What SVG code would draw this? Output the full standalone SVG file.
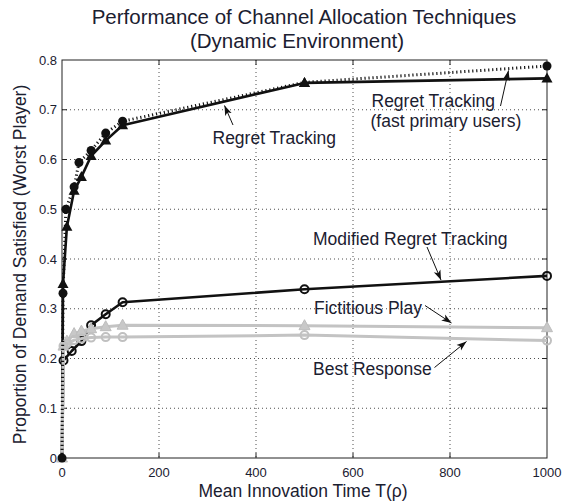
<svg xmlns="http://www.w3.org/2000/svg" xmlns:xlink="http://www.w3.org/1999/xlink" width="562" height="502" viewBox="0 0 562 502">
<style>
text{font-family:"Liberation Sans",Arial,sans-serif;fill:#1b2030}
.title{font-size:20.5px;text-anchor:middle}
.axl{font-size:17.5px;text-anchor:middle}
.tk{font-size:13px}
.ytk{text-anchor:end}
.xtk{text-anchor:middle}
.lab{font-size:17.5px}
.grid{stroke:#3a3a3a;stroke-width:0.9;stroke-dasharray:1 3;fill:none}
.box{stroke:#222;stroke-width:1;fill:none}
.blk{stroke:#111;stroke-width:2.6;fill:none;stroke-linejoin:round}
.dot{stroke:#111;stroke-width:3;fill:none;stroke-dasharray:1.2 2.8}
.gry{stroke:#c3c3c3;stroke-width:3;fill:none;stroke-linejoin:round}
.mtri{fill:#111}
.mfc{fill:#111}
.moc{fill:none;stroke:#111;stroke-width:2}
.gtri{fill:#c8c8c8;stroke:#bdbdbd;stroke-width:1}
.goc{fill:none;stroke:#c0c0c0;stroke-width:2}
.arr{stroke:#111;stroke-width:1;fill:none;marker-end:url(#ah)}
</style>
<defs>
<path id="tri" d="M0,-6 L5.5,4 L-5.5,4 Z"/>
<circle id="cir" r="4.5"/>
<circle id="ocir" r="4"/>
<marker id="ah" markerWidth="12" markerHeight="10" refX="10" refY="5" orient="auto" markerUnits="userSpaceOnUse" viewBox="0 0 12 10">
<path d="M10,5 L0,1.4 L2.6,5 L0,8.6 Z" fill="#111"/>
</marker>
</defs>
<rect width="562" height="502" fill="#fff"/>
<g id="title">
<text class="title" x="304" y="24">Performance of Channel Allocation Techniques</text>
<text class="title" x="297" y="48">(Dynamic Environment)</text>
</g>
<g id="grid">
<path class="grid" d="M159,60V458M256,60V458M353,60V458M450,60V458"/>
<path class="grid" d="M62,408.25H547M62,358.5H547M62,308.75H547M62,259H547M62,209.25H547M62,159.5H547M62,109.75H547"/>
</g>
<g id="axes">
<rect class="box" x="62" y="60" width="485" height="398"/>
<path stroke="#222" stroke-width="1" d="M159,458v-5M256,458v-5M353,458v-5M450,458v-5M159,60v5M256,60v5M353,60v5M450,60v5M62,408.25h5M62,358.5h5M62,308.75h5M62,259h5M62,209.25h5M62,159.5h5M62,109.75h5M547,408.25h-5M547,358.5h-5M547,308.75h-5M547,259h-5M547,209.25h-5M547,159.5h-5M547,109.75h-5"/>
<g class="tk ytk">
<text x="57" y="462.5">0</text>
<text x="57" y="412.7">0.1</text>
<text x="57" y="363">0.2</text>
<text x="57" y="313.2">0.3</text>
<text x="57" y="263.5">0.4</text>
<text x="57" y="213.7">0.5</text>
<text x="57" y="164">0.6</text>
<text x="57" y="114.2">0.7</text>
<text x="57" y="64.5">0.8</text>
</g>
<g class="tk xtk">
<text x="62" y="477">0</text>
<text x="159" y="477">200</text>
<text x="256" y="477">400</text>
<text x="353" y="477">600</text>
<text x="450" y="477">800</text>
<text x="547" y="477">1000</text>
</g>
<text class="axl" x="303" y="497">Mean Innovation Time T(ρ)</text>
<text class="axl" transform="translate(26,264.5) rotate(-90)">Proportion of Demand Satisfied (Worst Player)</text>
</g>
<g id="regret-tracking">
<polyline class="blk" points="62,458 63,283.9 66.9,226.7 74.1,190.8 81.4,176.9 91.1,156 105.7,140.6 122.6,125.2 304.5,82.9 547,78.4"/>
<g class="mtri">
<use href="#tri" x="63" y="283.9"/><use href="#tri" x="66.9" y="226.7"/><use href="#tri" x="74.1" y="190.8"/><use href="#tri" x="81.4" y="176.9"/><use href="#tri" x="91.1" y="156"/><use href="#tri" x="105.7" y="140.6"/><use href="#tri" x="122.6" y="125.2"/><use href="#tri" x="304.5" y="82.9"/><use href="#tri" x="547" y="78.4"/>
</g>
</g>
<g id="modified-regret-tracking">
<polyline class="blk" points="62,458 63.5,360.5 71.7,351 81.4,341.1 91.1,325.2 105.7,314.2 122.6,302.3 304.5,289.3 547,275.9"/>
<g class="moc">
<use href="#ocir" x="63.5" y="360.5"/><use href="#ocir" x="71.7" y="351"/><use href="#ocir" x="81.4" y="341.1"/><use href="#ocir" x="91.1" y="325.2"/><use href="#ocir" x="105.7" y="314.2"/><use href="#ocir" x="122.6" y="302.3"/><use href="#ocir" x="304.5" y="289.3"/><use href="#ocir" x="547" y="275.9"/>
</g>
</g>
<g id="fictitious-play">
<polyline class="gry" points="62,458 63.5,346.1 66.9,341.1 74.1,333.6 81.4,331.1 91.1,328.7 105.7,326.7 122.6,325.2 304.5,325.7 547,327.7"/>
<g class="gtri">
<use href="#tri" x="62" y="458"/><use href="#tri" x="63.5" y="346.1"/><use href="#tri" x="66.9" y="341.1"/><use href="#tri" x="74.1" y="333.6"/><use href="#tri" x="81.4" y="331.1"/><use href="#tri" x="91.1" y="328.7"/><use href="#tri" x="105.7" y="326.7"/><use href="#tri" x="122.6" y="325.2"/><use href="#tri" x="304.5" y="325.7"/><use href="#tri" x="547" y="327.7"/>
</g>
</g>
<g id="best-response">
<polyline class="gry" points="62,458 63.5,346.1 66.9,343.6 74.1,340.1 81.4,338.6 91.1,337.6 105.7,337.1 122.6,337.1 304.5,335.1 547,340.6"/>
<g class="goc">
<use href="#ocir" x="63.5" y="346.1"/><use href="#ocir" x="66.9" y="343.6"/><use href="#ocir" x="74.1" y="340.1"/><use href="#ocir" x="81.4" y="338.6"/><use href="#ocir" x="91.1" y="337.6"/><use href="#ocir" x="105.7" y="337.1"/><use href="#ocir" x="122.6" y="337.1"/><use href="#ocir" x="304.5" y="335.1"/><use href="#ocir" x="547" y="340.6"/>
</g>
</g>
<g id="regret-tracking-fast">
<polyline class="dot" points="62,458 63,293.3 65.9,209.3 74.1,186.9 79,162.5 91.1,150.5 105.7,133.1 122.6,121.2 304.5,82.4 547,66"/>
<g class="mfc">
<use href="#cir" x="62" y="458"/><use href="#cir" x="63" y="293.3"/><use href="#cir" x="65.9" y="209.3"/><use href="#cir" x="74.1" y="186.9"/><use href="#cir" x="79" y="162.5"/><use href="#cir" x="91.1" y="150.5"/><use href="#cir" x="105.7" y="133.1"/><use href="#cir" x="122.6" y="121.2"/><use href="#cir" x="547" y="66"/>
</g>
<use class="mtri" href="#tri" x="304.5" y="82.9"/>
</g>
<g id="labels">
<text id="lab-rt" class="lab" x="212.5" y="143.5">Regret Tracking</text>
<text id="lab-rtf" class="lab" x="371.5" y="106.5">Regret Tracking</text>
<text id="lab-rtf2" class="lab" x="370.5" y="126.5">(fast primary users)</text>
<text id="lab-mrt" class="lab" x="313" y="245">Modified Regret Tracking</text>
<text id="lab-fp" class="lab" x="314" y="314">Fictitious Play</text>
<text id="lab-br" class="lab" x="313" y="375">Best Response</text>
</g>
<g id="connectors">
<line class="arr" x1="233" y1="125" x2="224.5" y2="105.5"/>
<line class="arr" x1="500.5" y1="106" x2="508.5" y2="70.5"/>
<line class="arr" x1="427" y1="247" x2="441" y2="280"/>
<line class="arr" x1="425" y1="305.5" x2="451.5" y2="323"/>
<line class="arr" x1="434.5" y1="367.5" x2="466.5" y2="341.5"/>
</g>
</svg>
